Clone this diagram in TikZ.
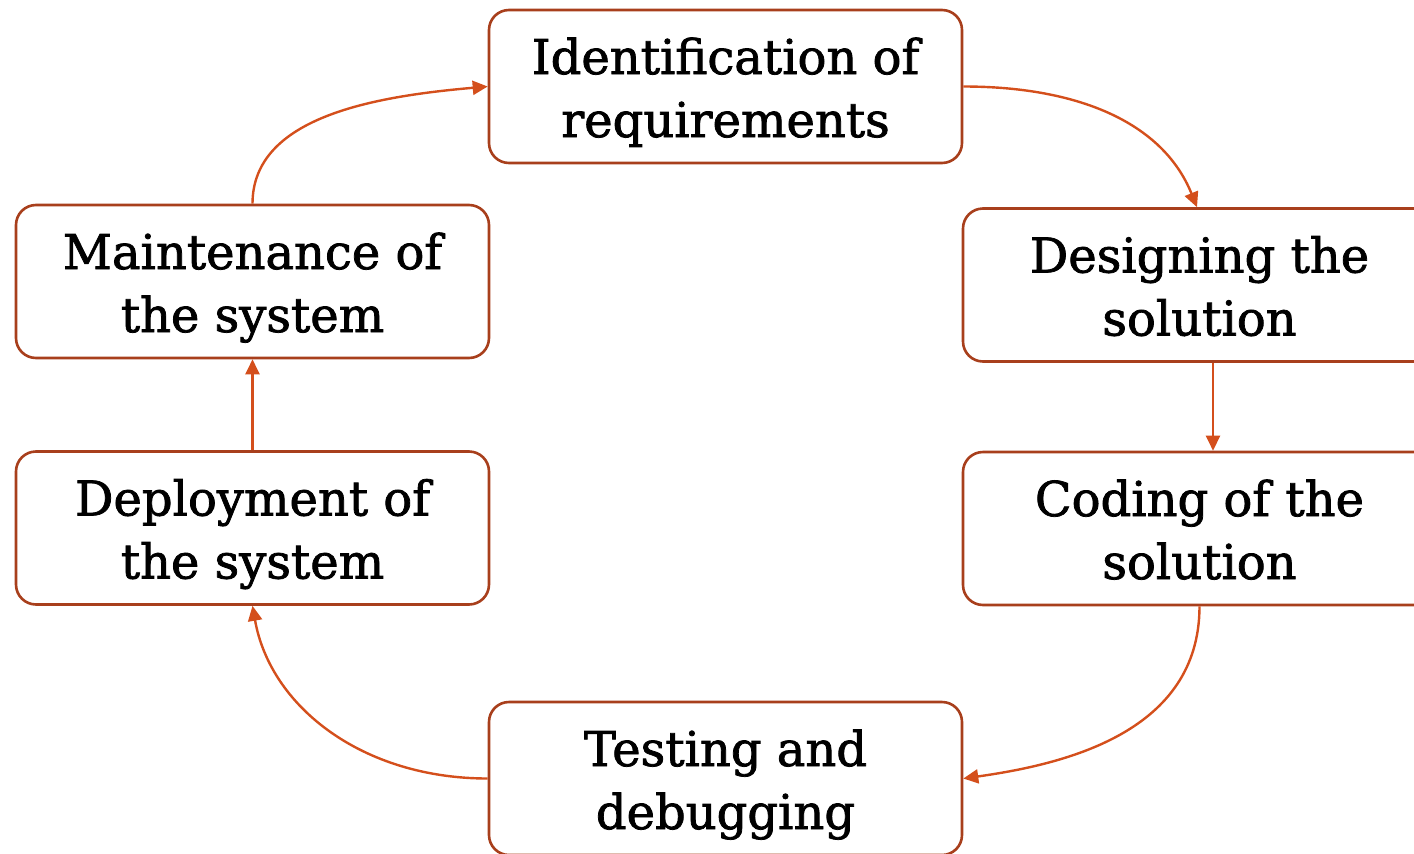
\documentclass[tikz,border=0pt]{standalone}
\usepackage{fontspec}
\setmainfont{DejaVu Serif}
\newfontfamily\stagefont{DejaVu Serif}[FakeBold=1.6]
\usetikzlibrary{arrows.meta}
\definecolor{boxline}{HTML}{A83F1C}
\definecolor{arrowline}{HTML}{D44F1C}
\newcommand\sst{\rule[-12.5pt]{0pt}{63pt}}
\tikzset{
  stage/.style={draw=boxline, line width=2.6pt, rounded corners=20pt, fill=white,
    minimum width=473pt, minimum height=153pt, inner sep=0pt, align=center,
    font=\stagefont\fontsize{48}{63}\selectfont, text=black},
  flow/.style={draw=arrowline, line width=2.4pt, -{Triangle[length=15pt,width=14pt]}}
}
\begin{document}
\begin{tikzpicture}[x=1pt,y=-1pt]
\useasboundingbox (0,0) rectangle (1414,854);
\node[stage] (I) at (725.5,86.5) {\sst Identification of\\\sst requirements};
\node[stage] (D) at (1199.5,285) {\sst Designing the\\\sst solution};
\node[stage] (C) at (1199.5,528.5) {\sst Coding of the\\\sst solution};
\node[stage] (T) at (725.5,778.5) {\sst Testing and\\\sst debugging};
\node[stage] (P) at (252.5,528) {\sst Deployment of\\\sst the system};
\node[stage] (M) at (252.5,281.5) {\sst Maintenance of\\\sst the system};
\draw[flow] (I.east) to[out=0,in=112,out looseness=1.1,in looseness=0.9] ([xshift=-2.5pt]D.north);
\draw[flow] ([xshift=13.5pt]D.south) -- ([xshift=13.5pt]C.north);
\draw[flow] (C.south) to[out=-90,in=8,out looseness=1.1,in looseness=0.9] (T.east);
\draw[flow] (T.west) to[out=180,in=-80,out looseness=1.1,in looseness=0.9] (P.south);
\draw[flow] (P.north) -- (M.south);
\draw[flow] (M.north) to[out=90,in=185,out looseness=0.85,in looseness=1.1] (I.west);
\end{tikzpicture}
\end{document}
